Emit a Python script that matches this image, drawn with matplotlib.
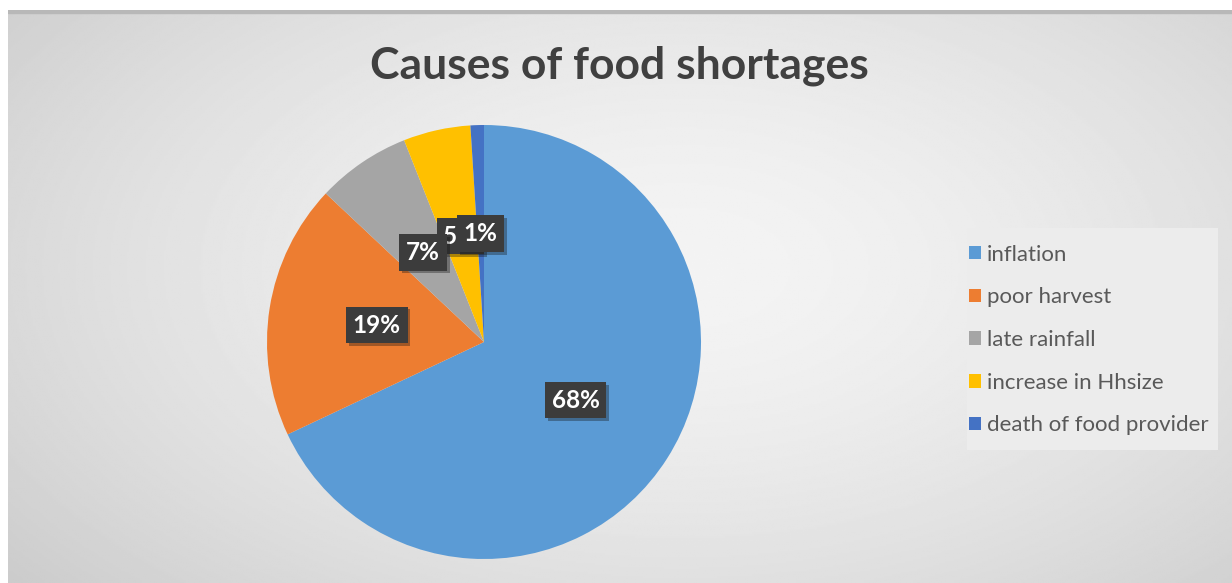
import numpy as np
import matplotlib.pyplot as plt
import matplotlib.patheffects as pe

categories = ["inflation", "poor harvest", "late rainfall", "increase in Hhsize", "death of food provider"]
values = [68, 19, 7, 5, 1]
colors = ["#5B9BD5", "#ED7D31", "#A5A5A5", "#FFC000", "#4472C4"]

plt.rcParams['font.family'] = ['Lato', 'DejaVu Sans']

fig = plt.figure(figsize=(12.32, 5.83), dpi=100)
fig.patch.set_facecolor("white")

# radial gradient background of the chart area
bg = fig.add_axes([8 / 1232, 0, 1 - 8 / 1232, 1 - 10 / 583])
yy, xx = np.mgrid[0:1:300j, 0:1:600j]
d = np.sqrt(((xx - 0.55) / 0.75) ** 2 + ((yy - 0.45) / 0.9) ** 2)
shade = 0.955 - 0.17 * np.clip(d, 0, 1.2) ** 1.6
bg.imshow(shade, cmap="gray", vmin=0, vmax=1, aspect="auto", extent=[0, 1, 0, 1])
bg.set_axis_off()
bg.add_patch(plt.Rectangle((0, 0.995), 1, 0.005, color="#b8b8b8", transform=bg.transAxes))

fig.text(0.5025, 0.888, "Causes of food shortages", ha="center", va="center",
         fontsize=32, fontweight="bold", color="#404040")

# pie, centre at about (484, 342) px, radius 217 px
ax = fig.add_axes([(484 - 217) / 1232, (583 - 342 - 217) / 583, 434 / 1232, 434 / 583])
wedges, _, autotexts = ax.pie(values, colors=colors, startangle=90, counterclock=False,
                              autopct="%d%%", pctdistance=0.5, radius=1.0,
                              wedgeprops=dict(linewidth=0))
ax.set_xlim(-1, 1)
ax.set_ylim(-1, 1)
ax.set_aspect("equal")
# stacking of the label boxes: 5% under 7% and 1%
order = [10, 11, 13, 12, 14]
for t, z in zip(autotexts, order):
    t.set_color("white")
    t.set_fontsize(17.5)
    t.set_fontweight("bold")
    t.set_zorder(z)
    t.set_bbox(dict(boxstyle="square,pad=0.28", facecolor="#3c3c3c", edgecolor="none"))
    t.get_bbox_patch().set_path_effects([pe.SimplePatchShadow(offset=(2, -2), alpha=0.35), pe.Normal()])

# legend panel
fig.patches.append(plt.Rectangle((967 / 1232, (583 - 450) / 583), 251 / 1232, 222 / 583,
                                 transform=fig.transFigure, facecolor="#ececec",
                                 edgecolor="none", zorder=1))
leg = fig.legend(wedges, categories, loc="center left",
                 bbox_to_anchor=(969 / 1232, (583 - 340) / 583),
                 frameon=False, fontsize=16, handlelength=0.55, handleheight=0.55,
                 handletextpad=0.25, labelspacing=1.02, borderpad=0, borderaxespad=0,
                 labelcolor="#595959")

fig.savefig("out.png", dpi=100)
